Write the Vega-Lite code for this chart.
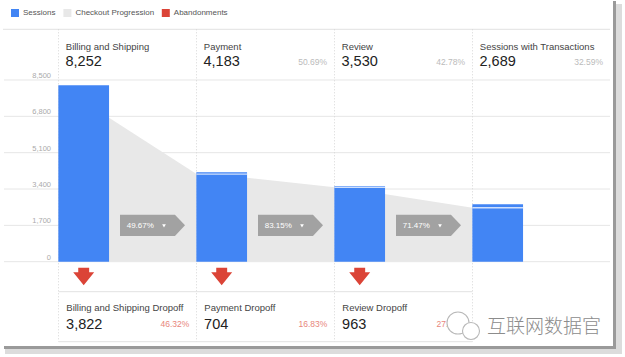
{
  "$schema": "https://vega.github.io/schema/vega-lite/v6.json",
  "width": 625,
  "height": 357,
  "autosize": {"type": "none"},
  "padding": 0,
  "background": "white",
  "config": {"view": {"stroke": null}, "font": "Liberation Sans", "scale": {"continuousPadding": 0}},
  "datasets": {
    "steps": [
      {"idx": 0, "step": "Billing and Shipping", "sessions": 8252, "progressed": null, "share": null, "dropoffLabel": "Billing and Shipping Dropoff", "dropoff": 3822, "dropoffRate": 0.4632},
      {"idx": 1, "step": "Payment", "sessions": 4183, "progressed": 4099, "share": 0.5069, "dropoffLabel": "Payment Dropoff", "dropoff": 704, "dropoffRate": 0.1683},
      {"idx": 2, "step": "Review", "sessions": 3530, "progressed": 3478, "share": 0.4278, "dropoffLabel": "Review Dropoff", "dropoff": 963, "dropoffRate": 0.2728},
      {"idx": 3, "step": "Sessions with Transactions", "sessions": 2689, "progressed": 2523, "share": 0.3259, "dropoffLabel": null, "dropoff": null, "dropoffRate": null}
    ],
    "flows": [
      {"transition": "Billing and Shipping → Payment", "idx": 0, "side": "exit", "sessions": 8252},
      {"transition": "Billing and Shipping → Payment", "idx": 1, "side": "entry", "sessions": 4099},
      {"transition": "Payment → Review", "idx": 1, "side": "exit", "sessions": 4183},
      {"transition": "Payment → Review", "idx": 2, "side": "entry", "sessions": 3478},
      {"transition": "Review → Sessions with Transactions", "idx": 2, "side": "exit", "sessions": 3530},
      {"transition": "Review → Sessions with Transactions", "idx": 3, "side": "entry", "sessions": 2523}
    ],
    "rates": [
      {"idx": 0, "rate": 0.4967},
      {"idx": 1, "rate": 0.8315},
      {"idx": 2, "rate": 0.7147}
    ],
    "ticks": [{"value": 0}, {"value": 1700}, {"value": 3400}, {"value": 5100}, {"value": 6800}, {"value": 8500}],
    "one": [{}]
  },
  "layer": [
    {
      "data": {"name": "one"},
      "mark": {"type": "rect", "color": "#dcdcdc"},
      "encoding": {
        "x": {"datum": -0.38768, "type": "quantitative", "scale": {"domain": [-0.42391, 4.10507], "nice": false, "zero": false, "padding": 0}, "axis": null},
        "x2": {"datum": 4.08333},
        "y": {"datum": 12055.2, "type": "quantitative", "scale": {"domain": [-4458.1, 12242.3], "nice": false, "zero": false, "padding": 0}, "axis": null},
        "y2": {"datum": -4318}
      }
    },
    {
      "data": {"name": "one"},
      "mark": {"type": "rect", "color": "#9a9a9a"},
      "encoding": {
        "x": {"datum": -0.39493, "type": "quantitative", "scale": {"domain": [-0.42391, 4.10507], "nice": false, "zero": false, "padding": 0}, "axis": null},
        "x2": {"datum": 4.03986},
        "y": {"datum": 12195.5, "type": "quantitative", "scale": {"domain": [-4458.1, 12242.3], "nice": false, "zero": false, "padding": 0}, "axis": null},
        "y2": {"datum": -4084}
      }
    },
    {
      "data": {"name": "one"},
      "mark": {"type": "rect", "color": "#ffffff"},
      "encoding": {
        "x": {"datum": -0.40217, "type": "quantitative", "scale": {"domain": [-0.42391, 4.10507], "nice": false, "zero": false, "padding": 0}, "axis": null},
        "x2": {"datum": 4.01812},
        "y": {"datum": 12242.3, "type": "quantitative", "scale": {"domain": [-4458.1, 12242.3], "nice": false, "zero": false, "padding": 0}, "axis": null},
        "y2": {"datum": -3943.6}
      }
    },
    {
      "data": {"name": "one"},
      "mark": {"type": "rule", "color": "#e2e2e2", "strokeWidth": 1},
      "encoding": {
        "x": {"datum": -0.40217, "type": "quantitative", "scale": {"domain": [-0.42391, 4.10507], "nice": false, "zero": false, "padding": 0}, "axis": null},
        "x2": {"datum": 3.99638},
        "y": {"datum": 10871.7, "type": "quantitative", "scale": {"domain": [-4458.1, 12242.3], "nice": false, "zero": false, "padding": 0}, "axis": null}
      }
    },
    {
      "data": {"name": "ticks"},
      "mark": {"type": "rule", "color": "#e6e6e6", "strokeWidth": 1},
      "encoding": {
        "x": {"datum": -0.39493, "type": "quantitative", "scale": {"domain": [-0.42391, 4.10507], "nice": false, "zero": false, "padding": 0}, "axis": null},
        "x2": {"datum": 3.99638},
        "y": {"field": "value", "type": "quantitative", "scale": {"domain": [-4458.1, 12242.3], "nice": false, "zero": false, "padding": 0}, "axis": null}
      }
    },
    {
      "data": {"name": "ticks"},
      "mark": {"type": "text", "align": "right", "baseline": "alphabetic", "dx": -7.5, "dy": -2, "fontSize": 7.5, "color": "#aaaaaa"},
      "encoding": {
        "x": {"datum": 0, "type": "quantitative", "scale": {"domain": [-0.42391, 4.10507], "nice": false, "zero": false, "padding": 0}, "axis": null},
        "y": {"field": "value", "type": "quantitative", "scale": {"domain": [-4458.1, 12242.3], "nice": false, "zero": false, "padding": 0}, "axis": null},
        "text": {"field": "value", "type": "quantitative", "format": ","}
      }
    },
    {
      "data": {"name": "steps"},
      "mark": {"type": "rule", "color": "#d6d6d6", "strokeWidth": 1, "strokeDash": [1, 2]},
      "encoding": {
        "x": {"field": "idx", "type": "quantitative", "scale": {"domain": [-0.42391, 4.10507], "nice": false, "zero": false, "padding": 0}, "axis": null},
        "y": {"datum": 10871.7, "type": "quantitative", "scale": {"domain": [-4458.1, 12242.3], "nice": false, "zero": false, "padding": 0}, "axis": null},
        "y2": {"datum": -3742.4}
      }
    },
    {
      "data": {"name": "one"},
      "mark": {"type": "rule", "color": "#e2e2e2", "strokeWidth": 1},
      "encoding": {
        "x": {"datum": 0, "type": "quantitative", "scale": {"domain": [-0.42391, 4.10507], "nice": false, "zero": false, "padding": 0}, "axis": null},
        "x2": {"datum": 3},
        "y": {"datum": -1403.4, "type": "quantitative", "scale": {"domain": [-4458.1, 12242.3], "nice": false, "zero": false, "padding": 0}, "axis": null}
      }
    },
    {
      "data": {"name": "one"},
      "mark": {"type": "rule", "color": "#e2e2e2", "strokeWidth": 1},
      "encoding": {
        "x": {"datum": 0, "type": "quantitative", "scale": {"domain": [-0.42391, 4.10507], "nice": false, "zero": false, "padding": 0}, "axis": null},
        "x2": {"datum": 3},
        "y": {"datum": -3742.4, "type": "quantitative", "scale": {"domain": [-4458.1, 12242.3], "nice": false, "zero": false, "padding": 0}, "axis": null}
      }
    },
    {
      "data": {"name": "flows"},
      "mark": {"type": "area", "opacity": 1},
      "encoding": {
        "x": {"field": "idx", "type": "quantitative", "scale": {"domain": [-0.42391, 4.10507], "nice": false, "zero": false, "padding": 0}, "axis": null},
        "xOffset": {"field": "side", "type": "nominal", "scale": {"type": "point", "domain": ["entry", "exit"], "range": [0, 50.5], "padding": 0}},
        "y": {"field": "sessions", "type": "quantitative", "stack": null, "scale": {"domain": [-4458.1, 12242.3], "nice": false, "zero": false, "padding": 0}, "axis": null},
        "y2": {"datum": 0},
        "detail": {"field": "transition"},
        "color": {"datum": "Checkout Progression", "title": null, "scale": {"domain": ["Sessions", "Checkout Progression", "Abandonments"], "range": ["#4285f4", "#e8e8e8", "#db4437"]},
          "legend": {"orient": "none", "legendX": 11, "legendY": 9, "direction": "horizontal", "symbolType": "square", "symbolSize": 64, "symbolStrokeWidth": 0, "symbolOpacity": 1, "labelFontSize": 8, "labelColor": "#555555", "labelOffset": 4, "columnPadding": 7.4, "padding": 0, "title": null}}
      }
    },
    {
      "data": {"name": "steps"},
      "mark": {"type": "bar", "width": 50.7, "xOffset": 25.2, "orient": "vertical", "opacity": 1},
      "encoding": {
        "x": {"field": "idx", "type": "quantitative", "scale": {"domain": [-0.42391, 4.10507], "nice": false, "zero": false, "padding": 0}, "axis": null},
        "y": {"field": "sessions", "type": "quantitative", "scale": {"domain": [-4458.1, 12242.3], "nice": false, "zero": false, "padding": 0}, "axis": null},
        "y2": {"datum": 0},
        "color": {"datum": "Sessions", "title": null, "scale": {"domain": ["Sessions", "Checkout Progression", "Abandonments"], "range": ["#4285f4", "#e8e8e8", "#db4437"]},
          "legend": {"orient": "none", "legendX": 11, "legendY": 9, "direction": "horizontal", "symbolType": "square", "symbolSize": 64, "symbolStrokeWidth": 0, "symbolOpacity": 1, "labelFontSize": 8, "labelColor": "#555555", "labelOffset": 4, "columnPadding": 7.4, "padding": 0, "title": null}}
      }
    },
    {
      "data": {"name": "steps"},
      "transform": [{"filter": "isValid(datum.progressed)"}],
      "mark": {"type": "tick", "orient": "horizontal", "size": 50.7, "thickness": 1.3, "xOffset": 25.2, "color": "#cfe0fd", "opacity": 1},
      "encoding": {
        "x": {"field": "idx", "type": "quantitative", "scale": {"domain": [-0.42391, 4.10507], "nice": false, "zero": false, "padding": 0}, "axis": null},
        "y": {"field": "progressed", "type": "quantitative", "scale": {"domain": [-4458.1, 12242.3], "nice": false, "zero": false, "padding": 0}, "axis": null}
      }
    },
    {
      "data": {"name": "rates"},
      "mark": {"type": "point", "shape": "M -1 -0.33 L 0.69 -0.33 L 1 0 L 0.69 0.33 L -1 0.33 Z", "size": 4225, "filled": true, "color": "#a2a2a2", "opacity": 1, "strokeWidth": 0, "xOffset": 94},
      "encoding": {
        "x": {"field": "idx", "type": "quantitative", "scale": {"domain": [-0.42391, 4.10507], "nice": false, "zero": false, "padding": 0}, "axis": null},
        "y": {"datum": 1700, "type": "quantitative", "scale": {"domain": [-4458.1, 12242.3], "nice": false, "zero": false, "padding": 0}, "axis": null}
      }
    },
    {
      "data": {"name": "rates"},
      "mark": {"type": "text", "align": "left", "baseline": "middle", "dx": 68.2, "dy": 0.5, "fontSize": 8, "color": "#ffffff"},
      "encoding": {
        "x": {"field": "idx", "type": "quantitative", "scale": {"domain": [-0.42391, 4.10507], "nice": false, "zero": false, "padding": 0}, "axis": null},
        "y": {"datum": 1700, "type": "quantitative", "scale": {"domain": [-4458.1, 12242.3], "nice": false, "zero": false, "padding": 0}, "axis": null},
        "text": {"field": "rate", "type": "quantitative", "format": ".2%"}
      }
    },
    {
      "data": {"name": "rates"},
      "mark": {"type": "point", "shape": "triangle-down", "size": 14, "filled": true, "color": "#ffffff", "opacity": 1, "strokeWidth": 0, "xOffset": 105.5, "yOffset": 0.5},
      "encoding": {
        "x": {"field": "idx", "type": "quantitative", "scale": {"domain": [-0.42391, 4.10507], "nice": false, "zero": false, "padding": 0}, "axis": null},
        "y": {"datum": 1700, "type": "quantitative", "scale": {"domain": [-4458.1, 12242.3], "nice": false, "zero": false, "padding": 0}, "axis": null}
      }
    },
    {
      "data": {"name": "steps"},
      "transform": [{"filter": "isValid(datum.dropoff)"}],
      "mark": {"type": "point", "shape": "M -0.52 -0.84 L 0.52 -0.84 L 0.52 -0.4 L 1 -0.4 L 0 0.84 L -1 -0.4 L -0.52 -0.4 Z", "size": 441, "filled": true, "opacity": 1, "strokeWidth": 0, "xOffset": 25.2},
      "encoding": {
        "x": {"field": "idx", "type": "quantitative", "scale": {"domain": [-0.42391, 4.10507], "nice": false, "zero": false, "padding": 0}, "axis": null},
        "y": {"datum": -692.3, "type": "quantitative", "scale": {"domain": [-4458.1, 12242.3], "nice": false, "zero": false, "padding": 0}, "axis": null},
        "color": {"datum": "Abandonments", "title": null, "scale": {"domain": ["Sessions", "Checkout Progression", "Abandonments"], "range": ["#4285f4", "#e8e8e8", "#db4437"]},
          "legend": {"orient": "none", "legendX": 11, "legendY": 9, "direction": "horizontal", "symbolType": "square", "symbolSize": 64, "symbolStrokeWidth": 0, "symbolOpacity": 1, "labelFontSize": 8, "labelColor": "#555555", "labelOffset": 4, "columnPadding": 7.4, "padding": 0, "title": null}}
      }
    },
    {
      "data": {"name": "steps"},
      "mark": {"type": "text", "align": "left", "baseline": "alphabetic", "dx": 7.3, "fontSize": 9.5, "color": "#444444"},
      "encoding": {
        "x": {"field": "idx", "type": "quantitative", "scale": {"domain": [-0.42391, 4.10507], "nice": false, "zero": false, "padding": 0}, "axis": null},
        "y": {"datum": 9903.3, "type": "quantitative", "scale": {"domain": [-4458.1, 12242.3], "nice": false, "zero": false, "padding": 0}, "axis": null},
        "text": {"field": "step", "type": "nominal"}
      }
    },
    {
      "data": {"name": "steps"},
      "mark": {"type": "text", "align": "left", "baseline": "alphabetic", "dx": 7, "fontSize": 14.5, "color": "#222222"},
      "encoding": {
        "x": {"field": "idx", "type": "quantitative", "scale": {"domain": [-0.42391, 4.10507], "nice": false, "zero": false, "padding": 0}, "axis": null},
        "y": {"datum": 9168.9, "type": "quantitative", "scale": {"domain": [-4458.1, 12242.3], "nice": false, "zero": false, "padding": 0}, "axis": null},
        "text": {"field": "sessions", "type": "quantitative", "format": ","}
      }
    },
    {
      "data": {"name": "steps"},
      "transform": [{"filter": "isValid(datum.share)"}],
      "mark": {"type": "text", "align": "right", "baseline": "alphabetic", "dx": 130.5, "fontSize": 8.5, "color": "#bbbbbb"},
      "encoding": {
        "x": {"field": "idx", "type": "quantitative", "scale": {"domain": [-0.42391, 4.10507], "nice": false, "zero": false, "padding": 0}, "axis": null},
        "y": {"datum": 9201.6, "type": "quantitative", "scale": {"domain": [-4458.1, 12242.3], "nice": false, "zero": false, "padding": 0}, "axis": null},
        "text": {"field": "share", "type": "quantitative", "format": ".2%"}
      }
    },
    {
      "data": {"name": "steps"},
      "transform": [{"filter": "isValid(datum.dropoff)"}],
      "mark": {"type": "text", "align": "left", "baseline": "alphabetic", "dx": 7.8, "fontSize": 9.5, "color": "#444444"},
      "encoding": {
        "x": {"field": "idx", "type": "quantitative", "scale": {"domain": [-0.42391, 4.10507], "nice": false, "zero": false, "padding": 0}, "axis": null},
        "y": {"datum": -2329.6, "type": "quantitative", "scale": {"domain": [-4458.1, 12242.3], "nice": false, "zero": false, "padding": 0}, "axis": null},
        "text": {"field": "dropoffLabel", "type": "nominal"}
      }
    },
    {
      "data": {"name": "steps"},
      "transform": [{"filter": "isValid(datum.dropoff)"}],
      "mark": {"type": "text", "align": "left", "baseline": "alphabetic", "dx": 7.6, "fontSize": 14.5, "color": "#222222"},
      "encoding": {
        "x": {"field": "idx", "type": "quantitative", "scale": {"domain": [-0.42391, 4.10507], "nice": false, "zero": false, "padding": 0}, "axis": null},
        "y": {"datum": -3148.3, "type": "quantitative", "scale": {"domain": [-4458.1, 12242.3], "nice": false, "zero": false, "padding": 0}, "axis": null},
        "text": {"field": "dropoff", "type": "quantitative", "format": ","}
      }
    },
    {
      "data": {"name": "steps"},
      "transform": [{"filter": "isValid(datum.dropoff)"}],
      "mark": {"type": "text", "align": "right", "baseline": "alphabetic", "dx": 130.8, "fontSize": 8.5, "color": "#e8867b"},
      "encoding": {
        "x": {"field": "idx", "type": "quantitative", "scale": {"domain": [-0.42391, 4.10507], "nice": false, "zero": false, "padding": 0}, "axis": null},
        "y": {"datum": -3054.7, "type": "quantitative", "scale": {"domain": [-4458.1, 12242.3], "nice": false, "zero": false, "padding": 0}, "axis": null},
        "text": {"field": "dropoffRate", "type": "quantitative", "format": ".2%"}
      }
    },
    {
      "data": {"name": "one"},
      "mark": {"type": "point", "shape": "circle", "size": 484, "filled": false, "fill": "#ffffff", "stroke": "#b8b8b8", "strokeWidth": 1.1, "opacity": 1},
      "encoding": {
        "x": {"datum": 2.89493, "type": "quantitative", "scale": {"domain": [-0.42391, 4.10507], "nice": false, "zero": false, "padding": 0}, "axis": null},
        "y": {"datum": -2867.6, "type": "quantitative", "scale": {"domain": [-4458.1, 12242.3], "nice": false, "zero": false, "padding": 0}, "axis": null}
      }
    },
    {
      "data": {"name": "one"},
      "mark": {"type": "point", "shape": "circle", "size": 289, "filled": false, "fill": "#ffffff", "stroke": "#b8b8b8", "strokeWidth": 1.1, "opacity": 1},
      "encoding": {
        "x": {"datum": 2.98913, "type": "quantitative", "scale": {"domain": [-0.42391, 4.10507], "nice": false, "zero": false, "padding": 0}, "axis": null},
        "y": {"datum": -3241.9, "type": "quantitative", "scale": {"domain": [-4458.1, 12242.3], "nice": false, "zero": false, "padding": 0}, "axis": null}
      }
    },
    {
      "data": {"name": "one"},
      "mark": {"type": "text", "align": "left", "baseline": "middle", "font": "Noto Sans CJK SC", "fontSize": 19, "fontWeight": 300, "color": "#8c8c8c", "text": "互联网数据官"},
      "encoding": {
        "x": {"datum": 3.10507, "type": "quantitative", "scale": {"domain": [-0.42391, 4.10507], "nice": false, "zero": false, "padding": 0}, "axis": null},
        "y": {"datum": -3040.7, "type": "quantitative", "scale": {"domain": [-4458.1, 12242.3], "nice": false, "zero": false, "padding": 0}, "axis": null}
      }
    }
  ]
}
